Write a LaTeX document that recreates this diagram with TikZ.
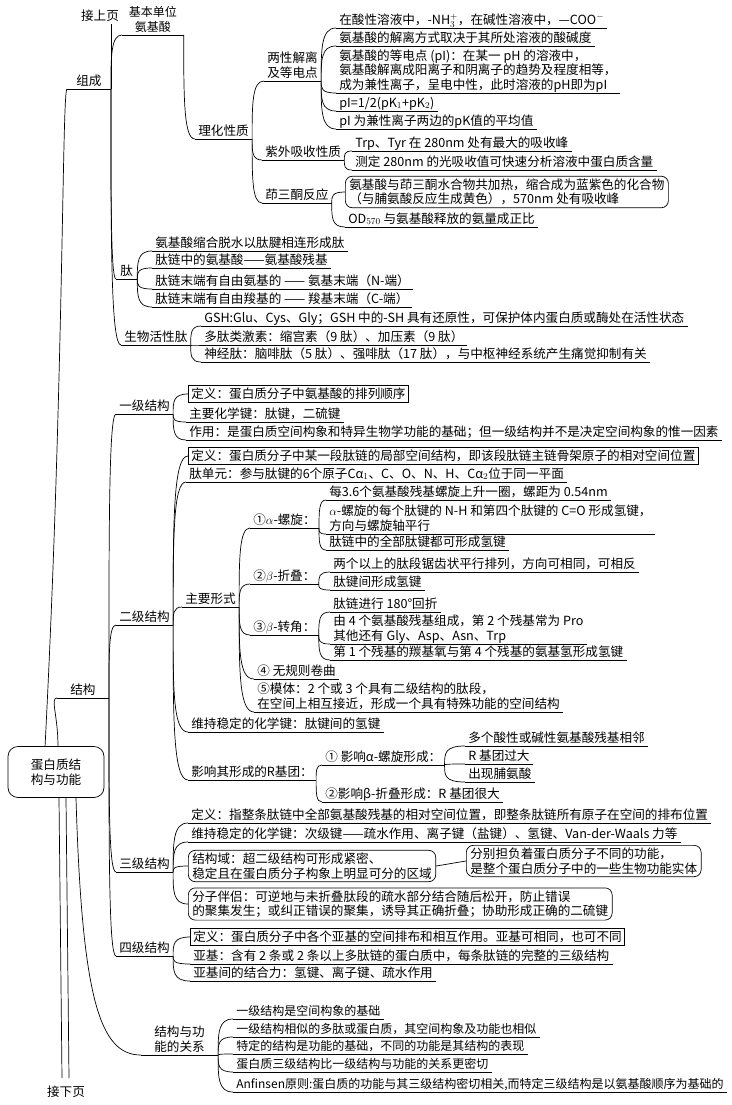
\documentclass[tikz,border=0pt]{standalone}
\usepackage{fontspec}
\setmainfont{Noto Sans CJK SC}
\usetikzlibrary{calc}
\newcommand\fs{\fontsize{12.6}{14.5}\selectfont}
\newcommand\fk{\fontsize{12}{14.5}\selectfont}
\tikzset{
  every node/.style={font=\fs, inner sep=1.5pt},
  ul/.style={anchor=south west, inner xsep=3pt, inner ysep=1.5pt, align=left, text depth=2pt,
    append after command={(\tikzlastnode.south west) edge (\tikzlastnode.south east)}},
  bx/.style={draw, anchor=west, inner xsep=3pt, inner ysep=2.5pt, align=left},
  rbx/.style={bx, rounded corners=7pt, inner xsep=4pt},
  rootbox/.style={draw, rounded corners=10pt, minimum width=96pt, minimum height=51pt, align=center},
}
\newcommand\brc[2]{\draw (#1) .. controls ($(#1)!0.6!(#1|-#2)$) and (#1|-#2) .. (#2);}
\begin{document}
\begin{tikzpicture}[x=1pt,y=1pt,line width=0.7pt]
\useasboundingbox[fill=white] (0,0) rectangle (731,-1105);

% root
\node[rootbox] (root) at (56,-772) {蛋白质结\\构与功能};

% ===== 组成 =====
\node[ul, inner xsep=9pt] (zc) at (67,-89) {组成};
\node (jsy) at (100,-16) {接上页};
\draw (zc.south east) -- (zc.south east |- jsy.south);
\node[ul, align=center, inner xsep=6.5pt, font=\fk] (aa) at (122,-35) {基本单位\\氨基酸};
\node[ul] (lh) at (195,-139) {理化性质};
\node[ul] (lx) at (264,-81) {两性解离\\及等电点};
\node[ul] (zw) at (262,-160) {紫外吸收性质};
\node[ul] (ysd) at (262,-203) {茚三酮反应};
\node[ul] (L1) at (336,-28) {在酸性溶液中，-NH$_3^+$，在碱性溶液中，—COO$^-$};
\node[ul] (L2) at (336,-46) {氨基酸的解离方式取决于其所处溶液的酸碱度};
\node[ul] (L3) at (336,-93) {氨基酸的等电点 (pI)：在某一 pH 的溶液中，\\氨基酸解离成阳离子和阴离子的趋势及程度相等，\\成为兼性离子，呈电中性，此时溶液的pH即为pI};
\node[ul] (L4) at (336,-111) {pI=1/2(pK$_1$+pK$_2$)};
\node[ul] (L5) at (336,-129) {pI 为兼性离子两边的pK值的平均值};
\node[ul] (U1) at (352,-151) {Trp、Tyr 在 280nm 处有最大的吸收峰};
\node[ul] (U2) at (352,-170) {测定 280nm 的光吸收值可快速分析溶液中蛋白质含量};
\node[rbx] (N1) at (345,-192) {氨基酸与茚三酮水合物共加热，缩合成为蓝紫色的化合物\\（与脯氨酸反应生成黄色），570nm 处有吸收峰};
\node[ul] (N2) at (345,-227) {OD$_{570}$ 与氨基酸释放的氨量成正比};

\node[ul, inner xsep=4pt] (tai) at (116,-279) {肽};
\node[ul] (T1) at (152,-251) {氨基酸缩合脱水以肽腱相连形成肽};
\node[ul] (T2) at (152,-268) {肽链中的氨基酸——氨基酸残基};
\node[ul] (T3) at (152,-289) {肽链末端有自由氨基的 —— 氨基末端（N-端）};
\node[ul] (T4) at (152,-307) {肽链末端有自由羧基的 —— 羧基末端（C-端）};
\node[ul] (swh) at (121,-345) {生物活性肽};
\node[ul] (S1) at (201,-326) {GSH:Glu、Cys、Gly；GSH 中的-SH 具有还原性，可保护体内蛋白质或酶处在活性状态};
\node[ul] (S2) at (201,-345) {多肽类激素：缩宫素（9 肽）、加压素（9 肽）};
\node[ul] (S3) at (201,-362) {神经肽：脑啡肽（5 肽）、强啡肽（17 肽），与中枢神经系统产生痛觉抑制有关};

\brc{zc.south east}{aa.south west}
\brc{zc.south east}{tai.south west}
\brc{zc.south east}{swh.south west}
\brc{aa.south east}{lh.south west}
\brc{lh.south east}{lx.south west}
\brc{lh.south east}{zw.south west}
\brc{lh.south east}{ysd.south west}
\foreach \c in {L1,L2,L3,L4,L5} {\brc{lx.south east}{\c.south west}}
\foreach \c in {U1,U2} {\brc{zw.south east}{\c.south west}}
\brc{ysd.south east}{N1.west}
\brc{ysd.south east}{N2.south west}
\foreach \c in {T1,T2,T3,T4} {\brc{tai.south east}{\c.south west}}
\foreach \c in {S1,S2,S3} {\brc{swh.south east}{\c.south west}}

% ===== 结构 =====
\node[ul, inner xsep=13pt] (jg) at (57,-698) {结构};
\node[ul] (yj) at (116,-414) {一级结构};
\node[ul] (ej) at (116,-625) {二级结构};
\node[ul] (sj) at (116,-872) {三级结构};
\node[ul] (fj) at (116,-956) {四级结构};
\foreach \c in {yj,ej,sj,fj} {\brc{jg.south east}{\c.south west}}

\node[bx] (Y1) at (188,-394) {定义：蛋白质分子中氨基酸的排列顺序};
\node[ul] (Y2) at (186,-422) {主要化学键：肽键，二硫键};
\node[ul] (Y3) at (186,-440) {作用：是蛋白质空间构象和特异生物学功能的基础；但一级结构并不是决定空间构象的惟一因素};
\brc{yj.south east}{Y1.west}
\brc{yj.south east}{Y2.south west}
\brc{yj.south east}{Y3.south west}

\node[bx] (E1) at (188,-456) {定义：蛋白质分子中某一段肽链的局部空间结构，即该段肽链主链骨架原子的相对空间位置};
\node[ul] (E2) at (186,-482) {肽单元：参与肽键的6个原子Cα$_1$、C、O、N、H、Cα$_2$位于同一平面};
\node[ul] (zy) at (182,-607) {主要形式};
\node[ul] (E4) at (188,-732) {维持稳定的化学键：肽键间的氢键};
\node[ul] (E5) at (188,-780) {影响其形成的R基团：};
\brc{ej.south east}{E1.west}
\foreach \c in {E2,zy,E4,E5} {\brc{ej.south east}{\c.south west}}

\node[ul] (F1) at (250,-528) {①$\alpha$-螺旋：};
\node[ul] (F1a) at (326,-500) {每3.6个氨基酸残基螺旋上升一圈，螺距为 0.54nm};
\node[ul] (F1b) at (326,-534) {$\alpha$-螺旋的每个肽键的 N-H 和第四个肽键的 C=O 形成氢键，\\方向与螺旋轴平行};
\node[ul] (F1c) at (326,-550) {肽链中的全部肽键都可形成氢键};
\node[ul] (F2) at (250,-584) {②$\beta$-折叠：};
\node[ul] (F2a) at (330,-572) {两个以上的肽段锯齿状平行排列，方向可相同，可相反};
\node[ul] (F2b) at (330,-590) {肽键间形成氢键};
\node[ul] (F3) at (250,-635) {③$\beta$-转角：};
\node[ul] (F3a) at (330,-612) {肽链进行 180°回折};
\node[ul] (F3b) at (330,-644) {由 4 个氨基酸残基组成，第 2 个残基常为 Pro\\其他还有 Gly、Asp、Asn、Trp};
\node[ul] (F3c) at (330,-660) {第 1 个残基的羰基氧与第 4 个残基的氨基氢形成氢键};
\node[ul] (F4) at (254,-679) {④ 无规则卷曲};
\node[ul] (F5) at (254,-712) {⑤模体：2 个或 3 个具有二级结构的肽段，\\在空间上相互接近，形成一个具有特殊功能的空间结构};
\foreach \c in {F1,F2,F3,F4,F5} {\brc{zy.south east}{\c.south west}}
\foreach \c in {F1a,F1b,F1c} {\brc{F1.south east}{\c.south west}}
\foreach \c in {F2a,F2b} {\brc{F2.south east}{\c.south west}}
\foreach \c in {F3a,F3b,F3c} {\brc{F3.south east}{\c.south west}}

\node[ul] (R1) at (322,-765) {① 影响α-螺旋形成：};
\node[ul] (R1a) at (465,-746) {多个酸性或碱性氨基酸残基相邻};
\node[ul] (R1b) at (465,-764) {R 基团过大};
\node[ul] (R1c) at (465,-782) {出现脯氨酸};
\node[ul] (R2) at (322,-802) {②影响β-折叠形成：R 基团很大};
\brc{E5.south east}{R1.south west}
\brc{E5.south east}{R2.south west}
\foreach \c in {R1a,R1b,R1c} {\brc{R1.south east}{\c.south west}}

\node[ul] (G1) at (188,-823) {定义：指整条肽链中全部氨基酸残基的相对空间位置，即整条肽链所有原子在空间的排布位置};
\node[ul] (G2) at (188,-842) {维持稳定的化学键：次级键——疏水作用、离子键（盐键）、氢键、Van-der-Waals 力等};
\node[rbx] (G3) at (188,-866) {结构域：超二级结构可形成紧密、\\稳定且在蛋白质分子构象上明显可分的区域};
\node[rbx] (G3a) at (466,-861) {分别担负着蛋白质分子不同的功能，\\是整个蛋白质分子中的一些生物功能实体};
\draw (G3.east) -- (G3a.west);
\node[rbx] (G4) at (188,-904) {分子伴侣：可逆地与未折叠肽段的疏水部分结合随后松开，防止错误\\的聚集发生；或纠正错误的聚集，诱导其正确折叠；协助形成正确的二硫键};
\brc{sj.south east}{G1.south west}
\brc{sj.south east}{G2.south west}
\brc{sj.south east}{G3.west}
\brc{sj.south east}{G4.west}

\node[bx] (H1) at (190,-937) {定义：蛋白质分子中各个亚基的空间排布和相互作用。亚基可相同，也可不同};
\node[ul] (H2) at (190,-964) {亚基：含有 2 条或 2 条以上多肽链的蛋白质中，每条肽链的完整的三级结构};
\node[ul] (H3) at (190,-981) {亚基间的结合力：氢键、离子键、疏水作用};
\brc{fj.south east}{H1.west}
\brc{fj.south east}{H2.south west}
\brc{fj.south east}{H3.south west}

% ===== 结构与功能的关系 =====
\node[ul, inner xsep=13pt] (gx) at (141,-1055) {结构与功\\能的关系};
\node[ul, font=\fk] (K1) at (233,-1019) {一级结构是空间构象的基础};
\node[ul, font=\fk] (K2) at (233,-1037) {一级结构相似的多肽或蛋白质，其空间构象及功能也相似};
\node[ul, font=\fk] (K3) at (233,-1054) {特定的结构是功能的基础，不同的功能是其结构的表现};
\node[ul, font=\fk] (K4) at (233,-1072) {蛋白质三级结构比一级结构与功能的关系更密切};
\node[ul, font=\fk] (K5) at (233,-1092) {Anfinsen原则:蛋白质的功能与其三级结构密切相关,而特定三级结构是以氨基酸顺序为基础的};
\foreach \c in {K1,K2,K3,K4,K5} {\brc{gx.south east}{\c.south west}}

\node (jxy) at (66,-1092) {接下页};

% root links
\coordinate (r1) at (45,-747);
\coordinate (r2) at (58,-747);
\coordinate (r3) at (76,-798);
\coordinate (r4) at (59,-798);
\coordinate (r5) at (62,-1078);
\coordinate (r6) at (66,-798);
\coordinate (r7) at (69,-1078);
\draw (r1) .. controls (64,-380) and (62,-89) .. (zc.south west);
\draw (r2) .. controls (58,-715) and (50,-698) .. (jg.south west);
\draw (r3) .. controls (82,-1000) and (100,-1055) .. (gx.south west);
\draw (r4) -- (r5);
\draw (r6) -- (r7);
\end{tikzpicture}
\end{document}
